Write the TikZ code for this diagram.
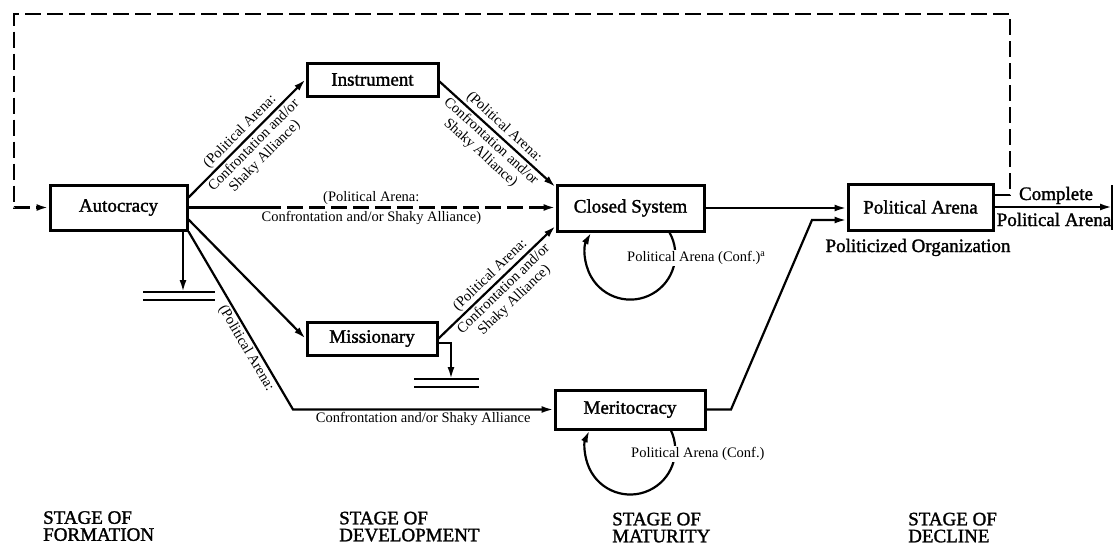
\documentclass[tikz,border=0pt]{standalone}
\usepackage{fontspec}
\setmainfont{Liberation Serif}
\newfontfamily\heavyfont{Liberation Serif}[FakeBold=1.5]
\usetikzlibrary{arrows.meta}
\begin{document}
\begin{tikzpicture}[x=1pt,y=-1pt,
  box/.style={draw, line width=3pt, inner sep=0pt, font=\heavyfont\fontsize{19}{21}\selectfont},
  conn/.style={line width=2.2pt, -{Latex[length=12pt,width=7pt]}},
  plain/.style={line width=2.2pt},
  dashline/.style={line width=2.6pt, dash pattern=on 16pt off 6pt},
  small/.style={font=\fontsize{14.5}{15.5}\selectfont, inner sep=2pt},
  big/.style={font=\heavyfont\fontsize{19}{17}\selectfont, inner sep=0pt},
  stagelab/.style={font=\heavyfont\fontsize{19}{17}\selectfont, inner sep=0pt, align=left, anchor=north west}]
\useasboundingbox (0,0) rectangle (1119,547);

% boxes
\node[box, minimum width=137pt, minimum height=45pt] (aut) at (118.5,207.5) {Autocracy};
\node[box, minimum width=131pt, minimum height=33pt] (ins) at (372.5,79.5) {Instrument};
\node[box, minimum width=147pt, minimum height=46pt] (cs) at (630.5,208) {Closed System};
\node[box, minimum width=145pt, minimum height=46pt] (pa) at (920.5,207) {Political Arena};
\node[box, minimum width=130pt, minimum height=33pt] (mis) at (372,338.5) {Missionary};
\node[box, minimum width=150pt, minimum height=39pt] (mer) at (630,409.5) {Meritocracy};

% helper coordinates
\coordinate (fbR) at (1010,14);
\coordinate (fbL) at (14,14);
\coordinate (mdash) at (265,207.5);
\coordinate (mk) at (293,409.5);
\coordinate (mr1) at (731,409.5);
\coordinate (mr2) at (812,220);
\coordinate (bar) at (1112,207);
\coordinate (g1) at (183,292);
\coordinate (g2) at (451,379);

% feedback dashed loop
\draw[dashline, -{Latex[length=12pt,width=7pt]}] ([yshift=12pt]pa.east) -| (fbR) -- (fbL) |- (aut.west);

% Autocracy -> Instrument
\draw[conn] ([yshift=10pt]aut.east) -- node[small, sloped, above] {(Political Arena:}
  node[small, sloped, below, align=center] {Confrontation and/or\\Shaky Alliance)} (ins.west);

% Instrument -> Closed System
\draw[conn] ([yshift=-2pt]ins.east) -- node[small, sloped, above] {(Political Arena:}
  node[small, sloped, below, align=center] {Confrontation and/or\\Shaky Alliance)} ([yshift=21pt]cs.west);

% Autocracy -> Closed System (dashed)
\draw[plain] (aut.east) -- (mdash);
\draw[dashline, -{Latex[length=12pt,width=7pt]}] (mdash) -- node[small, above, pos=0.366] {(Political Arena:}
  node[small, below, pos=0.366] {Confrontation and/or Shaky Alliance)} (mdash -| cs.west);

% Autocracy -> Missionary
\draw[conn] ([yshift=-12pt]aut.east) -- (mis.west);

% Missionary -> Closed System
\draw[conn] (mis.east) -- node[small, sloped, above] {(Political Arena:}
  node[small, sloped, below, align=center] {Confrontation and/or\\Shaky Alliance)} ([yshift=-18pt]cs.west);

% Autocracy -> Meritocracy
\draw[conn] (aut.south east) -- node[small, sloped, below, pos=0.63] {(Political Arena:} (mk)
  -- node[small, below] {Confrontation and/or Shaky Alliance} (mer.west);

% ground symbols
\draw[conn] (g1 |- aut.south) -- (g1);
\draw[plain] ([xshift=-40pt]g1) -- ([xshift=32pt]g1);
\draw[plain] ([xshift=-40pt,yshift=-8pt]g1) -- ([xshift=32pt,yshift=-8pt]g1);
\draw[conn] ([yshift=-4.5pt]mis.east) -| (g2);
\draw[plain] ([xshift=-37pt]g2) -- ([xshift=28pt]g2);
\draw[plain] ([xshift=-37pt,yshift=-8pt]g2) -- ([xshift=28pt,yshift=-8pt]g2);

% Closed System -> Political Arena
\draw[conn] (cs.east) -- (cs.east -| pa.west);
% Meritocracy -> Political Arena
\draw[conn] (mer.east) -- (mr1) -- (mr2) -- ([yshift=-13pt]pa.west);

% loops
\draw[conn] ([xshift=39pt]cs.south) arc[start angle=-29.4, end angle=209.4, radius=45];
\node[small, fill=white, anchor=west, inner sep=1pt] (cslab) at (626,258) {Political Arena (Conf.)\textsuperscript{a}};
\draw[conn] ([xshift=41pt]mer.south) arc[start angle=-25, end angle=205, radius=45];
\node[small, fill=white, anchor=west, inner sep=1pt] (merlab) at (630,454) {Political Arena (Conf.)};

% Political Arena -> end
\draw[conn] (pa.east) -- (bar);
\draw[line width=2.4pt] ([yshift=22pt]bar) -- ([yshift=-23pt]bar);
\node[big, anchor=base] (cmp) at (1056,200) {Complete};
\node[big, anchor=base] (cpa) at (1054,226) {Political Arena};
\node[big, anchor=base] (po) at (918,252) {Politicized Organization};

% stage labels
\node[stagelab] (s1) at (43,511) {STAGE OF\\FORMATION};
\node[stagelab] (s2) at (339,511.5) {STAGE OF\\DEVELOPMENT};
\node[stagelab] (s3) at (612,512.5) {STAGE OF\\MATURITY};
\node[stagelab] (s4) at (908,512.5) {STAGE OF\\DECLINE};
\end{tikzpicture}
\end{document}
